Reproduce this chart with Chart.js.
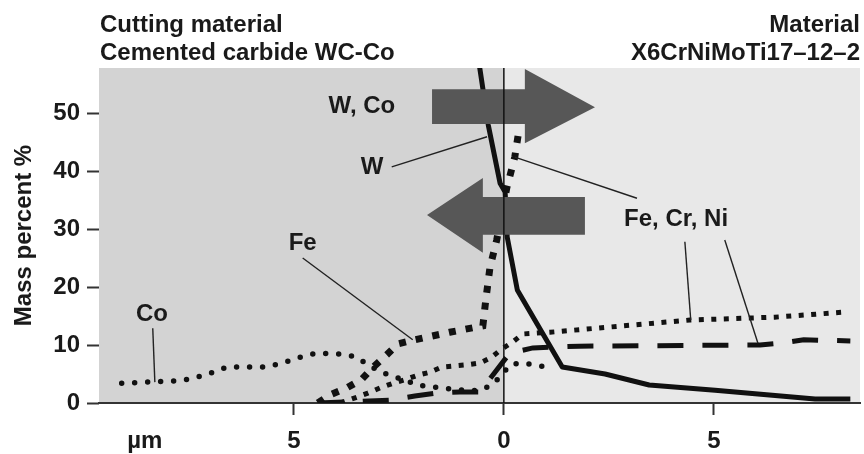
<!DOCTYPE html>
<html>
<head>
<meta charset="utf-8">
<script src="https://cdn.jsdelivr.net/npm/chart.js@4.4.1/dist/chart.umd.min.js"></script>
<style>
html,body{margin:0;padding:0;background:#fff}
</style>
</head>
<body>
<canvas id="c" width="864" height="454"></canvas>
<script>
/* DATA (µm from interface: negative = cutting material, positive = workpiece) */
const xTickValues = [-8.55, -5, 0, 5];
const xTickLabels = ["µm", "5", "0", "5"];
const yTickValues = [0, 10, 20, 30, 40, 50];

const wPos  = [-0.62, -0.37, -0.09, 0.03, 0.08, 0.32, 1.39, 2.41, 3.46, 5.03, 7.41, 8.25];
const wMass = [60, 47.9, 37.9, 36.4, 28.6, 19.5, 6.2, 5.0, 3.1, 2.2, 0.7, 0.7];

const coPos  = [-9.10, -8.48, -7.83, -7.52, -7.19, -6.93, -6.6, -5.98, -5.67, -5.38, -5.05, -4.76, -4.45, -3.83, -3.5, -3.24, -3.02, -2.71, -2.36, -2.07, -1.48, -0.86, -0.57, -0.29, -0.05, 0.14, 0.43, 0.71, 1.02];
const coMass = [3.4, 3.6, 3.8, 4.1, 4.7, 5.3, 6.2, 6.2, 6.2, 6.7, 7.4, 8.1, 8.6, 8.4, 7.9, 6.6, 5.7, 4.7, 4.0, 3.1, 2.6, 2.1, 2.2, 3.1, 4.8, 6.6, 6.9, 6.6, 6.2];

const fePos  = [-4.43, -4.14, -3.74, -3.38, -3.14, -2.79, -2.52, -2.12, -1.29, -0.5, -0.43, -0.33, -0.17, 0.07, 0.26, 0.36];
const feMass = [0, 1.4, 2.6, 4.1, 6.0, 8.3, 10.2, 10.9, 12.2, 13.3, 17.8, 23.4, 28.1, 37.1, 42.4, 47.1];

const crPos  = [-3.9, -3.5, -3.24, -2.95, -2.64, -2.36, -2.05, -1.76, -1.48, -0.86, -0.57, -0.29, -0.05, 0.21, 0.45, 1.1, 4.43, 6.45, 8.17];
const crMass = [0, 1.0, 1.7, 2.6, 3.4, 4.0, 4.8, 5.3, 6.2, 6.6, 6.9, 7.9, 9.3, 10.5, 11.9, 12.2, 14.3, 14.8, 15.7];

const niPos  = [-4.43, -2.71, -2.12, -1.6, -1.05, -0.57, -0.17, 0.14, 0.69, 1.79, 6.1, 6.57, 7.14, 8.25];
const niMass = [0, 0.5, 1.2, 1.7, 1.9, 1.9, 5.7, 8.6, 9.5, 9.8, 10.0, 10.3, 10.9, 10.7];

const pts = (xs, ys) => xs.map((x, i) => ({x: x, y: ys[i]}));

/* LOOK */
const FONT = "'Liberation Sans', Arial, Helvetica, sans-serif";
const INK = "#1a1a1a";
const TOOL_BG = "#d3d3d3";
const WORK_BG = "#e8e8e8";
const ARROW = "#575757";

/* annotations, in data units */
const arrows = [
  [[-1.71, 54.1], [0.5, 54.1], [0.5, 57.6], [2.17, 51.0], [0.5, 44.8], [0.5, 48.1], [-1.71, 48.1]],
  [[1.93, 35.5], [-0.5, 35.5], [-0.5, 38.8], [-1.83, 32.4], [-0.5, 25.9], [-0.5, 29.0], [1.93, 29.0]]
];
const labels = [
  {t: "W, Co", x: -3.38, y: 51.2},
  {t: "W", x: -3.14, y: 40.7},
  {t: "Fe", x: -4.79, y: 27.6},
  {t: "Co", x: -8.38, y: 15.2},
  {t: "Fe, Cr, Ni", x: 4.1, y: 31.7}
];
const leaders = [
  [[-2.67, 40.7], [-0.40, 45.9]],
  [[-4.79, 25.0], [-2.17, 10.9]],
  [[-8.36, 12.9], [-8.31, 3.6]],
  [[0.26, 42.4], [3.17, 35.3]],
  [[4.31, 27.8], [4.45, 14.3]],
  [[5.26, 28.1], [6.05, 10.3]]
];

/* BACKGROUND: two zones */
const bgPlugin = {
  id: "bg",
  beforeDraw(chart){
    const {ctx, chartArea: a, scales: {x}} = chart;
    const x0 = x.getPixelForValue(0);
    ctx.save();
    ctx.fillStyle = TOOL_BG;
    ctx.fillRect(a.left, a.top, x0 - a.left, a.bottom - a.top);
    ctx.fillStyle = WORK_BG;
    ctx.fillRect(x0, a.top, a.right - x0, a.bottom - a.top);
    ctx.restore();
  }
};

/* ARROWS, LABELS, HEADERS */
const overlayPlugin = {
  id: "overlay",
  afterDatasetsDraw(chart){
    const {ctx, chartArea: a, scales: {x, y}} = chart;
    const px = v => x.getPixelForValue(v);
    const py = v => y.getPixelForValue(v);
    ctx.save();

    ctx.fillStyle = ARROW;
    arrows.forEach(poly => {
      ctx.beginPath();
      poly.forEach((p, i) => i ? ctx.lineTo(px(p[0]), py(p[1])) : ctx.moveTo(px(p[0]), py(p[1])));
      ctx.closePath();
      ctx.fill();
    });

    // interface line
    ctx.strokeStyle = "#111";
    ctx.lineWidth = 1.5;
    ctx.beginPath();
    ctx.moveTo(px(0), a.top);
    ctx.lineTo(px(0), a.bottom);
    ctx.stroke();

    ctx.strokeStyle = "#222";
    ctx.lineWidth = 1.4;
    leaders.forEach(l => {
      ctx.beginPath();
      ctx.moveTo(px(l[0][0]), py(l[0][1]));
      ctx.lineTo(px(l[1][0]), py(l[1][1]));
      ctx.stroke();
    });

    ctx.fillStyle = INK;
    ctx.font = "bold 24px " + FONT;
    ctx.textAlign = "center";
    ctx.textBaseline = "middle";
    labels.forEach(l => ctx.fillText(l.t, px(l.x), py(l.y)));

    ctx.textBaseline = "alphabetic";
    ctx.textAlign = "left";
    ctx.fillText("Cutting material", a.left + 1, a.top - 36);
    ctx.fillText("Cemented carbide WC-Co", a.left + 1, a.top - 8);
    ctx.textAlign = "right";
    ctx.fillText("Material", a.right, a.top - 36);
    ctx.fillText("X6CrNiMoTi17\u201312\u20132", a.right, a.top - 8);
    ctx.restore();
  }
};

const base = {pointRadius: 0, tension: 0, fill: false, clip: 0, borderColor: "#111"};

new Chart(document.getElementById("c"), {
  type: "line",
  data: {
    datasets: [
      {...base, label: "W",  data: pts(wPos, wMass),   borderWidth: 5, borderJoinStyle: "round"},
      {...base, label: "Co", data: pts(coPos, coMass), borderWidth: 5.5, borderDash: [0, 13], borderCapStyle: "round"},
      {...base, label: "Cr", data: pts(crPos, crMass), borderWidth: 5, borderDash: [5, 7.5]},
      {...base, label: "Ni", data: pts(niPos, niMass), borderWidth: 5, borderDash: [26, 19]},
      {...base, label: "Fe", data: pts(fePos, feMass), borderWidth: 7, borderDash: [7, 10]}
    ]
  },
  options: {
    responsive: false,
    animation: false,
    devicePixelRatio: 1,
    layout: {padding: {top: 68, right: 4, left: 0, bottom: 0}},
    plugins: {legend: {display: false}, tooltip: {enabled: false}},
    scales: {
      x: {
        type: "linear",
        min: -9.64,
        max: 8.48,
        afterBuildTicks: s => { s.ticks = xTickValues.map(v => ({value: v})); },
        afterFit: s => { s.height = 51; },
        border: {display: true, color: "#333", width: 2},
        grid: {
          drawOnChartArea: false,
          tickLength: 12,
          tickWidth: 2,
          tickColor: c => (c.tick && c.tick.value === xTickValues[0]) ? "rgba(0,0,0,0)" : "#333"
        },
        ticks: {
          autoSkip: false,
          maxRotation: 0,
          padding: 12,
          color: INK,
          font: {family: FONT, size: 24, weight: "bold"},
          callback: v => xTickLabels[xTickValues.indexOf(v)]
        }
      },
      y: {
        min: 0,
        max: 57.76,
        afterBuildTicks: s => { s.ticks = yTickValues.map(v => ({value: v})); },
        afterFit: s => { s.width = 99; },
        border: {display: false},
        grid: {drawOnChartArea: false, tickLength: 12, tickWidth: 2, tickColor: "#333"},
        ticks: {padding: 7, color: INK, font: {family: FONT, size: 24, weight: "bold"}},
        title: {
          display: true,
          text: "Mass percent %",
          color: INK,
          padding: {top: 10, bottom: 0},
          font: {family: FONT, size: 24, weight: "bold"}
        }
      }
    }
  },
  plugins: [bgPlugin, overlayPlugin]
});
</script>
</body>
</html>
